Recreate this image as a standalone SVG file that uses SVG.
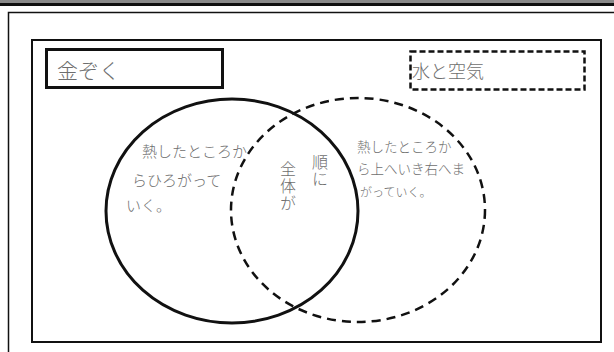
<svg xmlns="http://www.w3.org/2000/svg" width="614" height="352" viewBox="0 0 614 352">
<style>
.hw{font-family:"Noto Sans CJK JP","Noto Sans",sans-serif;fill:#6e6e6e;font-weight:300}
.vt{writing-mode:vertical-rl;font-size:16px;letter-spacing:1px}
.frame{fill:none;stroke:#111}
</style>
<rect width="614" height="352" fill="#fff"/>
<g id="page-frame">
<rect x="0" y="0" width="614" height="3" fill="#8a8a8a"/>
<rect x="0" y="3" width="614" height="3" fill="#111"/>
<path d="M8.5 352 V12.5 H614" class="frame" stroke-width="1.5"/>
<rect x="32" y="40" width="569" height="302" class="frame" stroke-width="2"/>
</g>
<g id="label-metal">
<rect x="46.5" y="49.5" width="176" height="38" class="frame" stroke-width="3"/>
<text x="57" y="78" class="hw" font-size="21">金ぞく</text>
</g>
<g id="label-water-air">
<rect x="410.5" y="51.5" width="174" height="38" class="frame" stroke-width="2.5" stroke-dasharray="6 3"/>
<text x="412" y="78" class="hw" font-size="18">水と空気</text>
</g>
<g id="circle-metal">
<ellipse cx="232" cy="211" rx="126" ry="112" class="frame" stroke-width="3"/>
<text class="hw" font-size="15"><tspan x="142" y="157">熱したところか</tspan><tspan x="132" y="186">らひろがって</tspan><tspan x="126" y="211">いく。</tspan></text>
</g>
<g id="circle-water-air">
<ellipse cx="358" cy="210" rx="127" ry="112" class="frame" stroke-width="2.5" stroke-dasharray="9 6"/>
<text class="hw" font-size="13.5"><tspan x="357" y="152">熱したところか</tspan><tspan x="357" y="174">ら上へいき右へま</tspan><tspan x="360" y="197" font-size="12">がっていく。</tspan></text>
</g>
<g id="overlap">
<text class="hw vt" x="320" y="154">順に</text>
<text class="hw vt" x="288" y="161">全体が</text>
</g>
<g id="connectors"/>
</svg>
